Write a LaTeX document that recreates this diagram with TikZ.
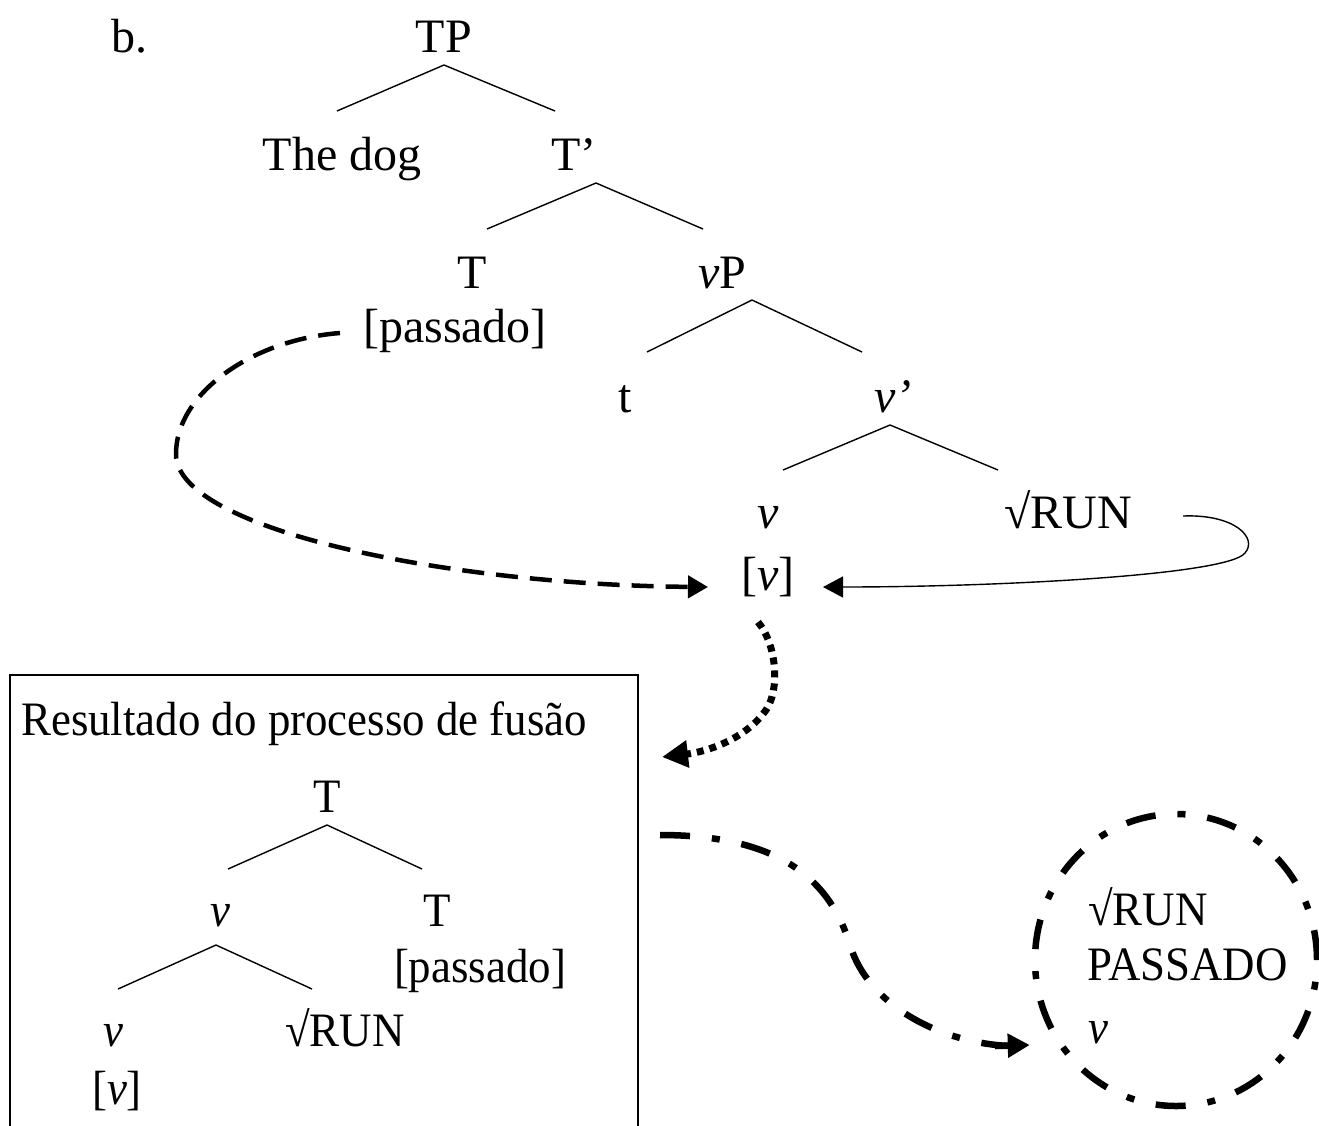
\documentclass[tikz,border=0pt]{standalone}
\usepackage{fontspec}
\setmainfont{Liberation Serif}
\newfontfamily\narrowserif[FakeStretch=0.935]{Liberation Serif}
\usetikzlibrary{arrows.meta,calc,shapes.geometric}
\begin{document}
\begin{tikzpicture}[x=1pt,y=-1pt,
  lbl/.style={anchor=base,inner sep=0pt,font=\fontsize{48}{56}\selectfont},
  nlbl/.style={anchor=base,inner sep=0pt,font=\narrowserif\fontsize{48}{56}\selectfont},
  nlblw/.style={anchor=base west,inner sep=0pt,font=\narrowserif\fontsize{48}{56}\selectfont},
  treeline/.style={line width=1.4pt},
  solidarrow/.style={line width=1.4pt,-{Triangle[length=20pt,width=21pt]}},
  dasharrow/.style={line width=4.5pt,dash pattern=on 22pt off 12pt,-{Triangle[length=20pt,width=22pt]}},
  dotarrow/.style={line width=7pt,dash pattern=on 7pt off 6pt,-{Triangle[length=26pt,width=26pt]}},
  dasdot/.style={line width=6.5pt,dash pattern=on 30pt off 22pt on 8pt off 22pt},
  boxline/.style={line width=2pt}
]
\useasboundingbox (0,0) rectangle (1319,1125);

% upper tree
\node[lbl] (b) at (129,52) {b.};
\node[lbl] (TP) at (444,52) {TP};
\node[lbl] (dog) at (342,170) {The dog};
\node[lbl] (Tbar) at (574,170) {T’};
\node[lbl] (T) at (472,288) {T};
\node[lbl] (pass) at (455,342) {[passado]};
\node[lbl] (vP) at (722,288) {\textit{v}P};
\node[lbl] (t) at (625,412) {t};
\node[lbl] (vbar) at (893,412) {\textit{v’}};
\node[lbl] (v) at (768,528) {\textit{v}};
\node[lbl] (vf) at (768,590) {[\textit{v}]};
\node[lbl] (run) at (1068,528) {√RUN};

\draw[treeline] ($(TP.base)+(0,13)$) -- ($(dog.base)+(-5,-59)$);
\draw[treeline] ($(TP.base)+(0,13)$) -- ($(Tbar.base)+(-19,-59)$);
\draw[treeline] ($(Tbar.base)+(22,13)$) -- ($(T.base)+(15,-59)$);
\draw[treeline] ($(Tbar.base)+(22,13)$) -- ($(vP.base)+(-19,-59)$);
\draw[treeline] ($(vP.base)+(30,12)$) -- ($(t.base)+(22,-60)$);
\draw[treeline] ($(vP.base)+(30,12)$) -- ($(vbar.base)+(-31,-60)$);
\draw[treeline] ($(vbar.base)+(-3,13)$) -- ($(v.base)+(15,-58)$);
\draw[treeline] ($(vbar.base)+(-3,13)$) -- ($(run.base)+(-70,-58)$);

% arrows in upper tree
\draw[solidarrow] ($(run.base)+(115,-12)$) .. controls (1235,514) and (1258,538) .. (1245,553)
   .. controls (1228,575) and (1000,587) .. ($(vf.base)+(55,-3)$);
\draw[dasharrow] ($(pass.base)+(-115,-9)$) .. controls (250,340) and (175,395) .. (176,455)
   .. controls (178,530) and (450,585) .. ($(vf.base)+(-60,-3)$);
\coordinate (boxtarget) at (662,757);
\draw[dotarrow] ($(vf.base)+(-10,32)$) .. controls (777,645) and (780,690) .. (766,710)
   .. controls (745,740) and (705,752) .. (boxtarget);

% box
\draw[boxline] (10,1135) -- (10,675) -- (638,675) -- (638,1135);
\node[nlblw] (res) at (21,735) {Resultado do processo de fusão};
\node[nlbl] (bT) at (327,812) {T};
\node[nlbl] (bv) at (220,926) {\textit{v}};
\node[nlbl] (bT2) at (437,926) {T};
\node[nlbl] (bpass) at (480,982) {[passado]};
\node[nlbl] (bvv) at (113,1046) {\textit{v}};
\node[nlbl] (brun) at (345,1046) {√RUN};
\node[nlbl] (bvf) at (117,1104) {[\textit{v}]};

\draw[treeline] ($(bT.base)+(0,13)$) -- ($(bv.base)+(8,-57)$);
\draw[treeline] ($(bT.base)+(0,13)$) -- ($(bT2.base)+(-15,-57)$);
\draw[treeline] ($(bv.base)+(-4,19)$) -- ($(bvv.base)+(5,-57)$);
\draw[treeline] ($(bv.base)+(-4,19)$) -- ($(brun.base)+(-33,-57)$);

% circle
\node[draw,dasdot,ellipse,minimum width=282pt,minimum height=292pt,inner sep=0pt] (circ) at (1176,960) {};
\node[nlblw] (c1) at (1088,925) {√RUN};
\node[nlblw] (c2) at (1087,980) {PASSADO};
\node[nlblw] (c3) at (1088,1043) {\textit{v}};

\coordinate (dstart) at (660,835);
\draw[dasdot] (dstart) .. controls (780,835) and (830,880) .. (850,945)
   .. controls (868,1005) and (940,1043) .. (1010,1046);
\draw[line width=6.5pt,-{Triangle[length=22pt,width=23pt]}] (995,1046) -- ($(circ.west)+(-2,85)$);
\end{tikzpicture}
\end{document}
